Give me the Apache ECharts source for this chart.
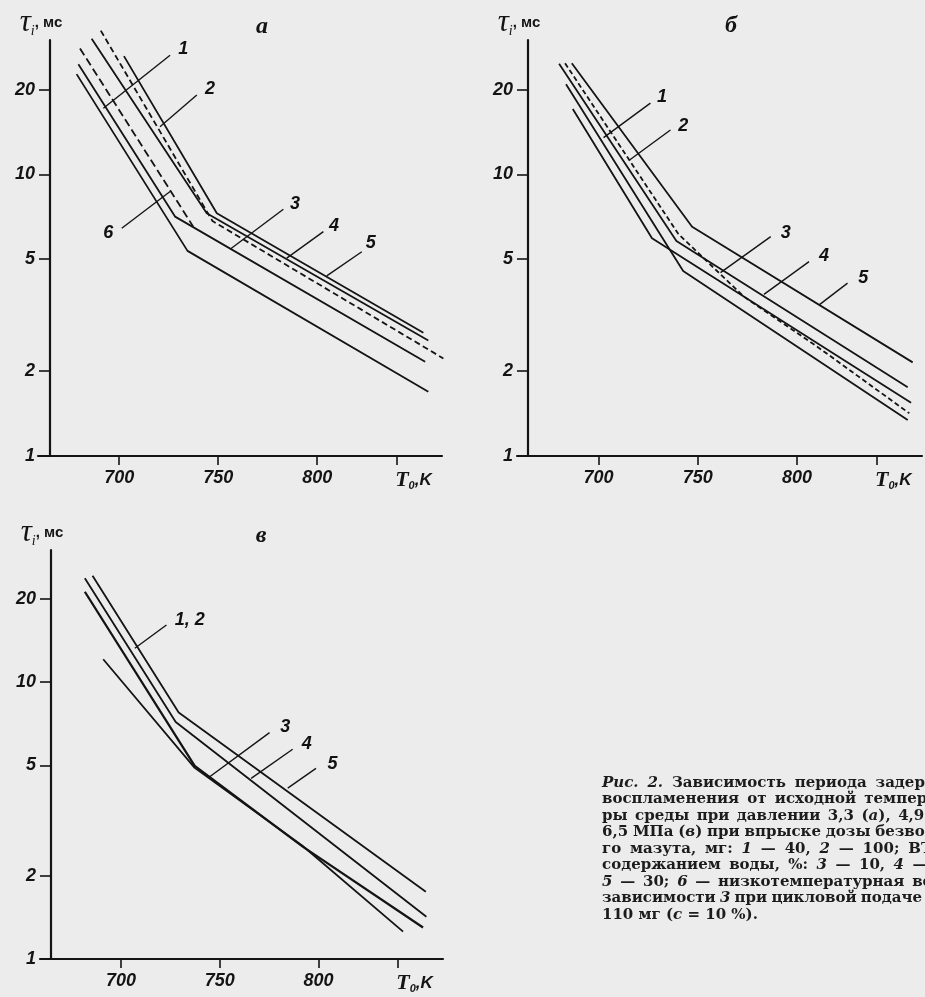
<!DOCTYPE html>
<html>
<head>
<meta charset="utf-8">
<script src="https://cdn.jsdelivr.net/npm/echarts@6/dist/echarts.min.js"></script>
<style>
html,body{margin:0;padding:0;background:#ececec;}
#c{width:925px;height:997px;}
</style>
</head>
<body>
<div id="c"></div>
<script>
// ---------- data (T0 in K, tau_i in ms) ----------
const T_TICKS = [700, 750, 800, 840];
const TAU_TICKS = [1, 2, 5, 10, 20];
const T_MIN = 659, T_MAX = 863;
const TAU_MIN = 1, TAU_MAX = 30;

// panel а
const a1 = [[678.5, 22.7], [734.5, 5.35], [856.1, 1.69]];
const a2 = [[690.7, 32.4], [747.1, 6.83], [863.7, 2.22]];
const a3 = [[679.4, 24.6], [728.2, 7.08], [854.5, 2.16]];
const a4 = [[686.1, 30.3], [744.2, 7.28], [856.1, 2.57]];
const a5 = [[702.4, 26.3], [749.3, 7.28], [853.6, 2.74]];
const a6 = [[680.2, 28.0], [737.4, 6.52]];
const aLeaders = [
  ['1', [692.0, 17.17], [725.7, 26.5], [732.4, 28.0]],
  ['2', [720.6, 14.77], [739.2, 19.14], [745.9, 20.2]],
  ['6', [725.7, 8.69], [701.3, 6.44], [694.5, 6.26]],
  ['3', [756.0, 5.42], [782.9, 7.52], [788.8, 7.90]],
  ['4', [784.6, 5.04], [803.1, 6.26], [808.5, 6.61]],
  ['5', [804.8, 4.36], [822.5, 5.31], [827.0, 5.77]]
];

// panel б
const b1 = [[683.7, 20.9], [742.7, 4.54], [855.8, 1.342]];
const b2 = [[683.2, 24.8], [740.3, 6.14], [773.3, 3.68], [810.4, 2.44], [856.6, 1.418]];
const b3 = [[687.1, 17.07], [727.0, 5.93], [857.5, 1.546]];
const b4 = [[680.2, 24.7], [739.3, 5.80], [855.8, 1.754]];
const b5 = [[686.6, 24.8], [747.2, 6.52], [858.3, 2.15]];
const bLeaders = [
  ['1', [702.6, 13.5], [726.2, 17.9], [732.1, 18.9]],
  ['2', [715.7, 11.25], [736.3, 14.38], [742.7, 14.98]],
  ['3', [761.5, 4.48], [786.8, 6.01], [794.4, 6.26]],
  ['4', [783.4, 3.75], [806.1, 4.90], [813.7, 5.17]],
  ['5', [811.2, 3.44], [825.5, 4.11], [833.4, 4.33]]
];

// panel в
const c12 = [[681.7, 21.2], [737.3, 4.98], [792.0, 2.545], [852.9, 1.30]];
const c3 = [[691.0, 12.09], [737.3, 4.90], [792.0, 2.56], [842.8, 1.255]];
const c4 = [[681.7, 23.7], [727.7, 7.18], [854.6, 1.42]];
const c5 = [[685.6, 24.2], [729.2, 7.77], [854.3, 1.75]];
const cLeaders = [
  ['1, 2', [707.0, 13.25], [723.0, 16.08], [734.8, 16.86]],
  ['3', [744.9, 4.55], [775.2, 6.57], [783.2, 6.94]],
  ['4', [765.9, 4.49], [786.9, 5.72], [794.0, 6.01]],
  ['5', [784.4, 4.14], [798.7, 4.88], [807.1, 5.12]]
];

const PANEL_TITLES = ['а', 'б', 'в'];
const CAPTION_LINES = [
  '_Рис._ _2._ Зависимость периода задержки',
  'воспламенения от исходной температу-',
  'ры среды при давлении 3,3 (_а_), 4,9 (_б_),',
  '6,5 МПа (_в_) при впрыске дозы безводно-',
  'го мазута, мг: _1_ — 40, _2_ — 100; ВТЭ с',
  'содержанием воды, %: _3_ — 10, _4_ — 20,',
  '_5_ — 30; _6_ — низкотемпературная ветвь',
  'зависимости _3_ при цикловой подаче ВТЭ',
  '110 мг (_c_ = 10 %).'
];

// ---------- layout / style ----------
const INK = '#141414';
const GRIDS = [
  {left: 38, top: 40, width: 404, height: 416},
  {left: 517, top: 40, width: 405, height: 416},
  {left: 40, top: 550, width: 403, height: 409}
];
const Y_OFFSETS = [-12, -11, -11];
const TITLE_POS = [[262, 27], [731, 26], [261, 536]];

const panels = [
  {lines: [[a1, null], [a2, [6, 3.5]], [a3, null], [a4, null], [a5, null], [a6, [8, 4]]], leaders: aLeaders},
  {lines: [[b1, null], [b2, [5, 3]], [b3, null], [b4, null], [b5, null]], leaders: bLeaders},
  {lines: [[c12, null], [c3, null], [c4, null], [c5, null]], leaders: cLeaders}
];

const grid = GRIDS.map(g => Object.assign({outerBoundsMode: 'none', containLabel: false}, g));

const xAxis = GRIDS.map((g, i) => ({
  type: 'value', gridIndex: i, min: T_MIN, max: T_MAX,
  axisLine: {show: true, onZero: false, lineStyle: {color: INK, width: 2.2}},
  axisTick: {show: true, length: 9, customValues: T_TICKS, lineStyle: {color: INK, width: 1.6}},
  axisLabel: {
    show: true, customValues: T_TICKS, margin: 13,
    fontFamily: 'Liberation Sans', fontStyle: 'italic', fontWeight: 'bold', fontSize: 18, color: INK,
    formatter: v => (Number(v) === 840 ? '{pad| }{t|T}{s|0}{k|,K}' : String(v)),
    rich: {
      pad: {width: 34},
      t: {fontFamily: 'Liberation Serif', fontStyle: 'italic', fontSize: 22, color: INK},
      s: {fontFamily: 'Liberation Sans', fontSize: 11, color: INK, verticalAlign: 'bottom', padding: [7, 0, 0, 0]},
      k: {fontFamily: 'Liberation Sans', fontWeight: 'bold', fontSize: 17, color: INK}
    }
  },
  splitLine: {show: false}
}));

const yAxis = GRIDS.map((g, i) => ({
  type: 'log', logBase: 10, gridIndex: i, min: TAU_MIN, max: TAU_MAX, offset: Y_OFFSETS[i],
  axisLine: {show: true, onZero: false, lineStyle: {color: INK, width: 2.2}},
  axisTick: {show: true, length: 11, customValues: TAU_TICKS, lineStyle: {color: INK, width: 1.6}},
  axisLabel: {
    show: true, customValues: TAU_TICKS, margin: 15,
    fontFamily: 'Liberation Sans', fontStyle: 'italic', fontWeight: 'bold', fontSize: 18, color: INK,
    formatter: v => String(Math.round(Number(v) * 100) / 100)
  },
  minorTick: {show: false},
  splitLine: {show: false},
  name: '{tau|τ}{sub|i}{u|, мс}',
  nameLocation: 'end', nameGap: 2,
  nameTextStyle: {
    padding: [0, 18, 0, 0],
    rich: {
      tau: {fontFamily: 'Liberation Serif', fontStyle: 'italic', fontSize: 31, color: INK},
      sub: {fontFamily: 'Liberation Serif', fontStyle: 'italic', fontSize: 14, color: INK, verticalAlign: 'bottom', padding: [10, 0, 0, 0]},
      u: {fontFamily: 'Liberation Sans', fontWeight: 'bold', fontSize: 15, color: INK}
    }
  }
}));

const series = [];
panels.forEach((p, i) => {
  p.lines.forEach(([data, dash]) => {
    series.push({
      type: 'line', xAxisIndex: i, yAxisIndex: i, data: data,
      symbol: 'none', clip: false, silent: true, animation: false,
      lineStyle: {color: INK, width: data === c12 ? 2.3 : 1.8, type: dash ? dash : 'solid'}
    });
  });
  p.leaders.forEach(l => {
    series.push({
      type: 'line', xAxisIndex: i, yAxisIndex: i, data: [l[1], l[2]],
      symbol: 'none', clip: false, silent: true, animation: false,
      lineStyle: {color: INK, width: 1.4}
    });
  });
  series.push({
    type: 'scatter', xAxisIndex: i, yAxisIndex: i, silent: true, animation: false, clip: false,
    symbol: 'circle', symbolSize: 2, itemStyle: {color: INK, opacity: 0},
    data: p.leaders.map(l => ({value: l[3], name: l[0]})),
    label: {
      show: true, position: 'top', distance: -11, formatter: '{b}', opacity: 1,
      fontFamily: 'Liberation Sans', fontStyle: 'italic', fontWeight: 'bold', fontSize: 18, color: '#111',
      textBorderWidth: 0
    }
  });
});

// ---------- graphic: panel letters + caption ----------
const graphic = PANEL_TITLES.map((t, i) => ({
  type: 'text', x: TITLE_POS[i][0], y: TITLE_POS[i][1], silent: true,
  style: {
    text: t, font: 'italic bold 24px "Liberation Serif"', fill: INK,
    align: 'center', verticalAlign: 'middle', textAlign: 'center', textVerticalAlign: 'middle'
  }
}));

const CAP_X = 602, CAP_Y0 = 783, CAP_DY = 16.5, CAP_W = 360;
const CAP_SIZE = 15, CAP_FAMILY = '"DejaVu Serif"';
const measureCtx = document.createElement('canvas').getContext('2d');
function segs(word) {
  return word.split('_').map((t, k) => ({t: t, i: k % 2 === 1})).filter(s => s.t.length);
}
function segWidth(s) {
  measureCtx.font = (s.i ? 'italic ' : '') + 'bold ' + CAP_SIZE + 'px ' + CAP_FAMILY;
  return measureCtx.measureText(s.t).width;
}
measureCtx.font = 'bold ' + CAP_SIZE + 'px ' + CAP_FAMILY;
const SPACE_W = measureCtx.measureText(' ').width;
const CAP_RICH = {
  n: {fontFamily: 'DejaVu Serif', fontWeight: 'bold', fontSize: CAP_SIZE, fill: '#1c1c1c'},
  i: {fontFamily: 'DejaVu Serif', fontWeight: 'bold', fontStyle: 'italic', fontSize: CAP_SIZE, fill: '#1c1c1c'}
};
CAPTION_LINES.forEach((line, k) => {
  const words = line.split(' ');
  const ws = words.map(w => segs(w).reduce((a, s) => a + segWidth(s), 0));
  const total = ws.reduce((a, b) => a + b, 0);
  const last = k === CAPTION_LINES.length - 1;
  const gap = last || words.length < 2 ? SPACE_W : Math.max(3, (CAP_W - total) / (words.length - 1));
  let x = CAP_X;
  words.forEach((w, j) => {
    const txt = segs(w).map(s => '{' + (s.i ? 'i' : 'n') + '|' + s.t + '}').join('');
    graphic.push({
      type: 'text', x: x, y: CAP_Y0 + k * CAP_DY, silent: true,
      style: {text: txt, rich: CAP_RICH, verticalAlign: 'middle', textVerticalAlign: 'middle'}
    });
    x += ws[j] + gap;
  });
});

const chart = echarts.init(document.getElementById('c'), null, {renderer: 'canvas', width: 925, height: 997});
chart.setOption({
  backgroundColor: '#ececec',
  animation: false,
  grid: grid,
  xAxis: xAxis,
  yAxis: yAxis,
  series: series,
  graphic: graphic
});
</script>
</body>
</html>
